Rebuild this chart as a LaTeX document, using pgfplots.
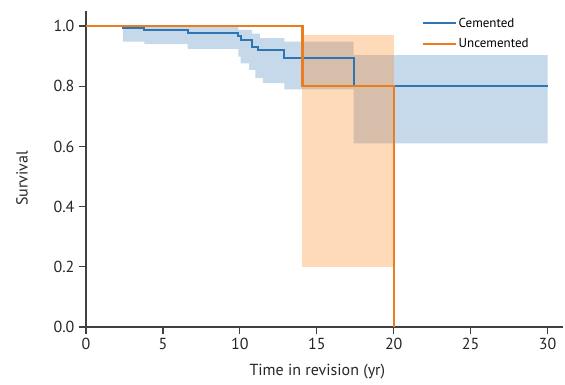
\documentclass[border=0pt]{standalone}
\usepackage{pgfplots}
\pgfplotsset{compat=1.18}
\usepackage{fontspec}
\setmainfont{PT Sans}
\definecolor{cblue}{RGB}{46,117,182}
\definecolor{corange}{RGB}{236,125,30}
\definecolor{bband}{RGB}{46,117,182}
\definecolor{oband}{RGB}{255,127,14}
\definecolor{axcol}{RGB}{64,64,64}
\begin{document}
\begin{tikzpicture}
\begin{axis}[
  at={(0,0)}, anchor=south west,
  scale only axis, width=477pt, height=316pt,
  xmin=0, xmax=31, ymin=0, ymax=1.05,
  axis lines*=left,
  axis line style={draw=axcol, line width=1.2pt},
  xtick={0,5,10,15,20,25,30},
  ytick={0,0.2,0.4,0.6,0.8,1.0},
  yticklabel style={/pgf/number format/fixed, /pgf/number format/fixed zerofill, /pgf/number format/precision=1},
  /pgf/number format/assume math mode=true,
  tick align=outside, major tick length=7pt,
  tick style={draw=axcol, line width=1.2pt},
  ticklabel style={font=\fontsize{16}{19}\selectfont, text=black!85},
  xticklabel style={yshift=-1pt},
  yticklabel style={xshift=-1pt},
  xlabel={Time in revision (yr)},
  ylabel={Survival},
  every axis x label/.style={at={(axis description cs:0.485,0)}, anchor=north, yshift=-34pt,
    font=\fontsize{16}{19}\selectfont, text=black!85},
  every axis y label/.style={at={(axis description cs:-0.134,0.47)}, anchor=center, rotate=90,
    font=\fontsize{16}{19}\selectfont, text=black!85},
  legend style={draw=none, fill=none, at={(axis description cs:0.703,0.985)}, anchor=north west,
    font=\fontsize{13}{15}\selectfont, row sep=6pt, inner sep=0pt, nodes={inner sep=2pt}},
  legend cell align=left,
  legend image code/.code={\draw[#1, line width=2.2pt] (0pt,0pt) -- (33pt,0pt);},
]
% bands
\addplot[draw=none, fill=bband, fill opacity=0.28, forget plot] coordinates {
(2.4,1) (9.9,1) (9.9,0.987) (10.8,0.987) (10.8,0.975) (11.3,0.975) (11.3,0.96) (12.9,0.96)
(12.9,0.948) (17.4,0.948) (17.4,0.903) (30,0.903)
(30,0.61) (17.4,0.61) (17.4,0.79) (12.9,0.79) (12.9,0.81) (11.5,0.81) (11.5,0.827) (11.0,0.827)
(11.0,0.854) (10.6,0.854) (10.6,0.876) (10.05,0.876) (10.05,0.898) (9.9,0.898) (9.9,0.924)
(6.6,0.924) (6.6,0.94) (3.8,0.94) (3.8,0.948) (2.4,0.948)
};
\addplot[draw=none, fill=oband, fill opacity=0.29, forget plot] coordinates {
(14.07,0.20) (20.0,0.20) (20.0,0.97) (14.07,0.97)
};
% curves
\addplot[const plot, color=cblue, line width=2pt] coordinates {
(0,1) (2.4,0.995) (3.8,0.987) (6.6,0.978) (9.9,0.967) (10.1,0.953) (10.8,0.931)
(11.2,0.92) (12.9,0.893) (17.4,0.80) (30,0.80)
};
\addlegendentry{Cemented}
\addplot[const plot, color=corange, line width=2.4pt] coordinates {
(0,1) (14.07,0.80) (20.0,0)
};
\addlegendentry{Uncemented}
\end{axis}
\pgfresetboundingbox
\useasboundingbox (-86pt,-57pt) rectangle (479pt,327pt);
\end{tikzpicture}
\end{document}
